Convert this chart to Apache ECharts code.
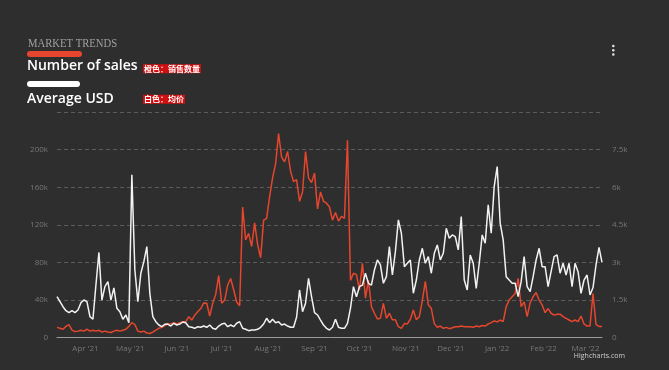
<!DOCTYPE html>
<html>
<head>
<meta charset="utf-8">
<script src="https://cdn.jsdelivr.net/npm/echarts@6/dist/echarts.min.js"></script>
<style>
html,body{margin:0;padding:0;background:#2e2e2e;}
#chart{width:669px;height:370px;}
</style>
</head>
<body>
<div id="chart"></div>
<script>
// ---- Data (2-day steps from 13 Mar 2021) ----
const startDate = [2021, 2, 13];
const stepDays = 2;

// Number of sales (thousands)
const salesK = [
 11,10,9,12,14,8,6.5,7,8,7,
 9,7,8,7,8,6,7,6,5.5,7,
 8,7,8,9,12,16,14,7,6,7,
 5,4.5,6,8,10,11,12.8,14.6,14.6,16,
 14.6,16,17,17,22.4,18.8,24,27.7,31,37,
 36.6,23,36.6,46,66,36.6,40,56,63,51,
 38,34,139,104,111,97,122,99,85,125,
 127,150,170,185,217,192,187,198,177,166,
 168,145,155,198,170,165,175,137,155,145,
 143,139,125,133,124,129,127,210,61,68.5,
 67,51,79,42,61,33,26,20,20.6,36.6,
 20.6,26,19,19,11.7,10,15,14.6,19.6,29.5,
 19,22.4,39.4,60,35,31,15,11,12.4,10,
 11,9.6,10.6,11.7,11.7,12.4,11.7,11.7,11.7,11,
 12.4,11.7,13,12.4,14.6,16,17.8,16.8,18.8,17,
 33,40,43.6,47,63,33,38,22.4,37,43.6,
 48,40,35,26.6,31,26,24,25,25,22.4,
 20.6,18.8,17,18.8,17,23,14.6,12.4,12.4,47,
 14,12,12
];

// Average price (USD)
const avgUSD = [
 1636,1436,1237,1077,998,1077,998,1105,1397,1504,
 1436,838,734,2100,3400,1500,2035,2234,1500,1983,
 1172,1037,734,906,599,6500,2700,1436,2570,3033,
 3630,1771,838,638,506,439,535,546,466,575,
 506,546,626,599,439,415,375,439,415,466,
 415,506,375,335,466,546,575,439,506,439,
 575,638,375,335,280,308,308,335,415,546,
 774,599,734,599,638,506,546,466,415,415,
 814,1903,1037,1373,2370,1636,998,906,704,506,
 375,308,415,734,415,375,375,575,1172,2035,
 1636,2035,2100,2570,2170,2100,2700,3100,2900,2170,
 2434,3630,2500,3430,4700,4165,2833,2968,3100,1771,
 2300,3100,3566,2968,3232,2570,3366,3700,3100,3366,
 4365,3966,4098,4030,3500,4830,2300,1900,3300,2968,
 1970,2968,4098,3766,5300,4165,6025,6823,4565,3900,
 2434,2300,2170,2170,1636,2234,3232,2035,1835,2434,
 3100,3566,2833,2833,2035,2633,3232,3300,2570,2968,
 2500,2968,2035,2968,2633,1771,2300,2500,1703,2000,
 2900,3600,3000
];

const monthNames = ['Jan','Feb','Mar','Apr','May','Jun','Jul','Aug','Sep','Oct','Nov','Dec'];
const leftTicksK = [0, 40, 80, 120, 160, 200];
const rightTicks = [0, 1500, 3000, 4500, 6000, 7500];

const dates = salesK.map((_, i) => new Date(startDate[0], startDate[1], startDate[2] + i * stepDays).getTime());

const RED = '#e5462d';
const WHITE = '#f2f2f2';

const chart = echarts.init(document.getElementById('chart'), null, {renderer: 'canvas'});
chart.setOption({
  backgroundColor: '#2e2e2e',
  animation: false,
  grid: {left: 57, right: 67, top: 112, bottom: 32.3, containLabel: false},
  xAxis: {
    type: 'time',
    min: dates[0],
    max: dates[dates.length - 1],
    maxInterval: 31 * 86400000,
    minInterval: 28 * 86400000,
    splitNumber: 12,
    axisLine: {show: true, lineStyle: {color: '#9a9a9a', width: 1}},
    axisTick: {show: false},
    splitLine: {show: false},
    axisLabel: {
      color: '#777',
      fontSize: 8,
      fontFamily: 'Open Sans',
      margin: 7,
      hideOverlap: false,
      formatter: function (v) {
        const d = new Date(v);
        if (d.getDate() !== 1) return '';
        return monthNames[d.getMonth()] + " '" + String(d.getFullYear()).slice(2);
      }
    }
  },
  yAxis: [
    {
      type: 'value', min: 0, max: 240, interval: 40,
      axisLine: {show: false}, axisTick: {show: false},
      splitLine: {show: true, lineStyle: {color: '#5c5c5c', type: [4, 3], width: 1}},
      axisLabel: {
        color: '#777', fontSize: 8, fontFamily: 'Open Sans', margin: 9,
        padding: [0, 0, 7, 0],
        formatter: function (v) { return leftTicksK.indexOf(v) < 0 ? '' : (v === 0 ? '0' : v + 'k'); }
      }
    },
    {
      type: 'value', min: 0, max: 9000, interval: 1500,
      axisLine: {show: false}, axisTick: {show: false},
      splitLine: {show: false},
      axisLabel: {
        color: '#777', fontSize: 8, fontFamily: 'Open Sans', margin: 10,
        padding: [0, 0, 7, 0],
        formatter: function (v) { return rightTicks.indexOf(v) < 0 ? '' : (v === 0 ? '0' : (v / 1000) + 'k'); }
      }
    }
  ],
  series: [
    {
      name: 'Number of sales', type: 'line', yAxisIndex: 0,
      showSymbol: false, smooth: false,
      lineStyle: {color: RED, width: 1.5},
      itemStyle: {color: RED},
      data: salesK.map((v, i) => [dates[i], v])
    },
    {
      name: 'Average USD', type: 'line', yAxisIndex: 1,
      showSymbol: false, smooth: false,
      lineStyle: {color: WHITE, width: 1.5},
      itemStyle: {color: WHITE},
      data: avgUSD.map((v, i) => [dates[i], v])
    }
  ],
  graphic: [
    {type: 'text', x: 28, y: 37, scaleX: 0.82, style: {text: 'MARKET TRENDS', fill: '#a0a0a0', font: '300 13px "Liberation Serif", "DejaVu Serif", serif'}},
    {type: 'rect', shape: {x: 27, y: 51, width: 55, height: 6, r: 3}, style: {fill: RED}},
    {type: 'text', x: 27, y: 66.5, style: {text: 'Number of sales', fill: '#ffffff', font: '600 14px "Open Sans", sans-serif', verticalAlign: 'middle'}},
    {type: 'text', x: 143, y: 68.7, style: {text: '橙色：销售数量', fill: '#ffffff', font: 'bold 8px "Noto Sans CJK SC", sans-serif', verticalAlign: 'middle', backgroundColor: '#d01010', padding: [1, 1, 0, 1]}},
    {type: 'rect', shape: {x: 27, y: 81, width: 53, height: 6, r: 3}, style: {fill: '#ffffff'}},
    {type: 'text', x: 27, y: 99, style: {text: 'Average USD', fill: '#ffffff', font: '600 14px "Open Sans", sans-serif', verticalAlign: 'middle'}},
    {type: 'text', x: 143, y: 99.3, style: {text: '白色：均价', fill: '#ffffff', font: 'bold 8px "Noto Sans CJK SC", sans-serif', verticalAlign: 'middle', backgroundColor: '#d01010', padding: [1, 1, 0, 1]}},
    {type: 'circle', shape: {cx: 613.3, cy: 46, r: 1.3}, style: {fill: '#e0e0e0'}},
    {type: 'circle', shape: {cx: 613.3, cy: 50.3, r: 1.3}, style: {fill: '#e0e0e0'}},
    {type: 'circle', shape: {cx: 613.3, cy: 54.5, r: 1.3}, style: {fill: '#e0e0e0'}},
    {type: 'text', x: 625, y: 356, style: {text: 'Highcharts.com', fill: '#cccccc', font: '7px "Open Sans", sans-serif', align: 'right', verticalAlign: 'middle'}}
  ]
});
</script>
</body>
</html>
